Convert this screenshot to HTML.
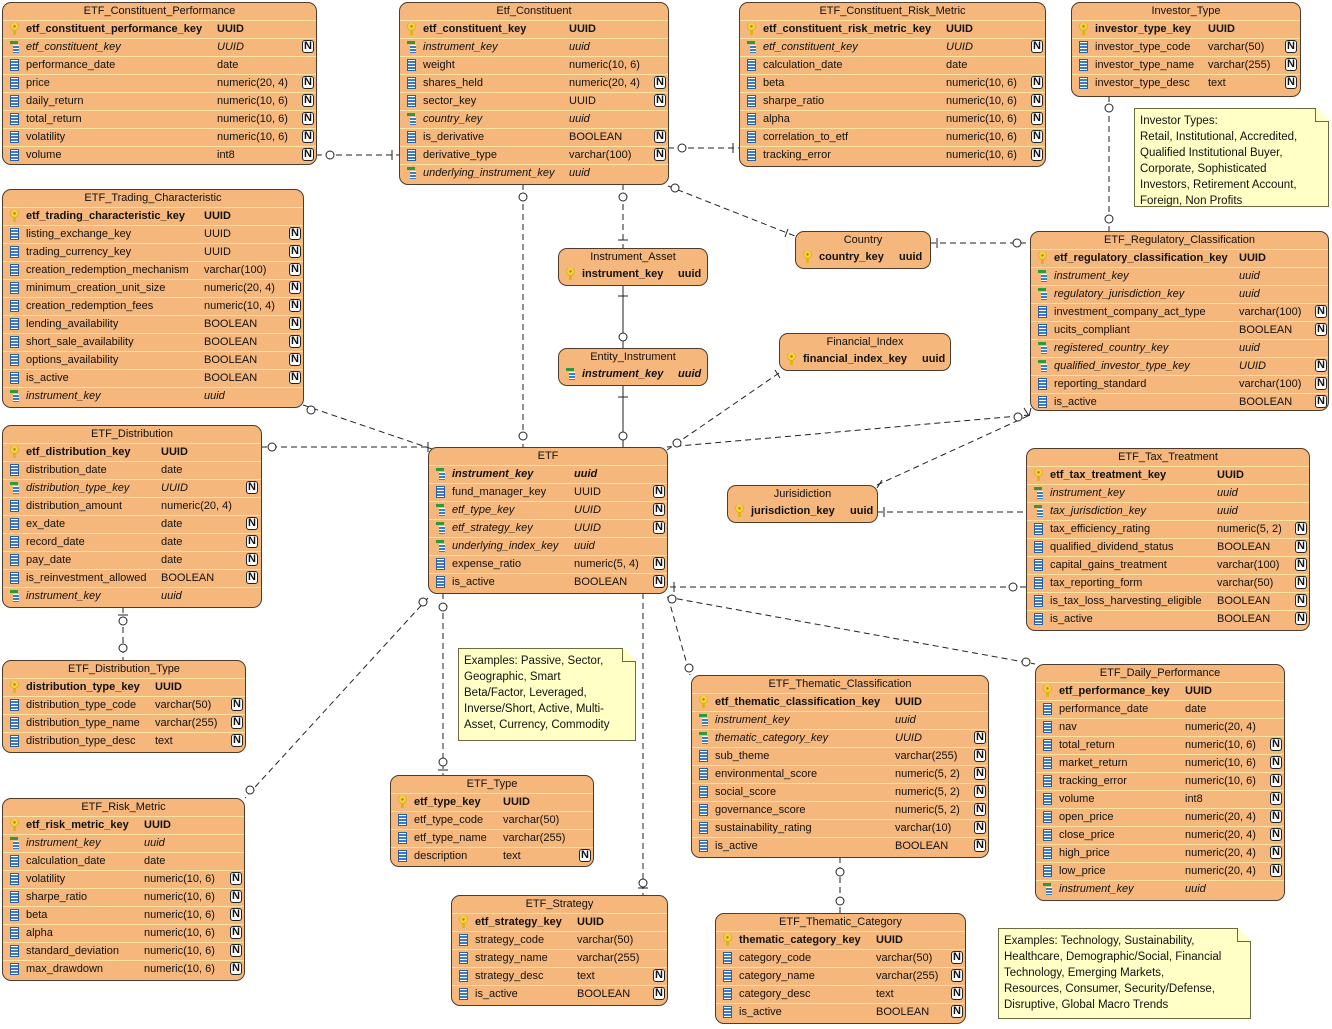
<!DOCTYPE html>
<html><head><meta charset="utf-8"><style>
body{margin:0;width:1332px;height:1029px;background:#fff;position:relative;overflow:hidden;font-family:"Liberation Sans",sans-serif}
.t{position:absolute;background:#f6b77c;border:1px solid #4d3b2b;border-radius:9px;overflow:hidden;font-size:11px;color:#111;box-sizing:border-box}
.h{height:17px;line-height:16px;text-align:center}
.r{position:relative;height:17px;border-top:1px solid #fbe3a0;line-height:17px;white-space:nowrap}
.r b,.r em,.r span{position:absolute;left:23px;font-weight:normal;font-style:normal}
.r s{position:absolute;left:var(--t);text-decoration:none}
.p b,.p s{font-weight:bold}
.f em,.f s{font-style:italic}
.r u{position:absolute;left:calc(var(--n) - 1px);top:1px;width:12px;height:13px;border:1px solid #222;background:#fff;border-radius:3px;font:bold 11px/13px "Liberation Sans",sans-serif;text-align:center;text-decoration:none;box-sizing:border-box;line-height:11px}
.r i{position:absolute;left:7px;top:2px;width:9px;height:12px}
.p i{background:radial-gradient(circle at 50% 28%,#b08a10 0 1px,#f5d23a 1.5px 3.5px,#c9a015 4px,transparent 4.5px),linear-gradient(#e0b51c,#e0b51c) 3px 6px/3px 7px no-repeat;}
.c i{background:repeating-linear-gradient(#fff 0 1px,#3b7cc8 1px 3px);border:1px solid #2d5f9e;width:7px;height:10px}
.f i{background:linear-gradient(#2e9b3a,#2e9b3a) 0 0/8px 3px no-repeat,repeating-linear-gradient(#fff 0 1px,#3b7cc8 1px 3px) 3px 4px/7px 8px no-repeat}
.s .r{border-top:none}
.note{position:absolute;background:#ffffc6;border:1px solid #6a6a40;font-size:11.5px;line-height:16px;padding:4px 5px;box-sizing:border-box;color:#111}
.note:after{content:"";position:absolute;right:-1px;top:-1px;width:14px;height:14px;background:linear-gradient(45deg,#ffffc6 50%,#fff 50%);border-left:1px solid #6a6a40;border-bottom:1px solid #6a6a40;box-sizing:border-box}
svg{position:absolute;left:0;top:0}
</style></head><body>
<svg width="1332" height="1029" fill="none" stroke="#222" stroke-width="1">
<g stroke-dasharray="6,4">
<line x1="316" y1="155" x2="399" y2="155"/>
<line x1="668" y1="148" x2="739" y2="148"/>
<line x1="623" y1="184" x2="623" y2="248"/>
<line x1="668" y1="186" x2="795" y2="236"/>
<line x1="930" y1="243" x2="1030" y2="243"/>
<line x1="1109" y1="96" x2="1109" y2="231"/>
<line x1="523" y1="184" x2="523" y2="447"/>
<line x1="303" y1="405" x2="435" y2="450"/>
<line x1="261" y1="447" x2="428" y2="447"/>
<line x1="779" y1="373" x2="667" y2="450"/>
<line x1="1030" y1="415" x2="667" y2="447"/>
<line x1="877" y1="485" x2="1030" y2="415"/>
<line x1="877" y1="512" x2="1026" y2="512"/>
<line x1="1026" y1="587" x2="667" y2="587"/>
<line x1="667" y1="597" x2="1035" y2="664"/>
<line x1="668" y1="597" x2="690" y2="675"/>
<line x1="840" y1="857" x2="840" y2="913"/>
<line x1="643" y1="593" x2="643" y2="895"/>
<line x1="443" y1="593" x2="443" y2="775"/>
<line x1="428" y1="598" x2="245" y2="798"/>
<line x1="123" y1="607" x2="123" y2="660"/>
</g>
<line x1="623" y1="285" x2="623" y2="348"/>
<line x1="623" y1="385" x2="623" y2="447"/>
<g fill="#fff">
<circle cx="330" cy="155" r="4"/><circle cx="682" cy="148" r="4"/><circle cx="623" cy="197" r="4"/><circle cx="675" cy="188" r="4"/>
<circle cx="1017" cy="243" r="4"/><circle cx="1109" cy="108" r="4"/><circle cx="1109" cy="219" r="4"/><circle cx="523" cy="197" r="4"/><circle cx="523" cy="436" r="4"/>
<circle cx="311" cy="410" r="4"/><circle cx="272" cy="447" r="4"/><circle cx="677" cy="443" r="4"/><circle cx="1018" cy="417" r="4"/>
<circle cx="1013" cy="587" r="4"/><circle cx="672" cy="599" r="4"/><circle cx="1026" cy="662" r="4"/><circle cx="689" cy="668" r="4"/>
<circle cx="840" cy="872" r="4"/><circle cx="840" cy="901" r="4"/><circle cx="643" cy="883" r="4"/><circle cx="443" cy="607" r="4"/><circle cx="443" cy="762" r="4"/>
<circle cx="250" cy="790" r="4"/><circle cx="423" cy="602" r="4"/><circle cx="123" cy="621" r="4"/><circle cx="123" cy="648" r="4"/>
<circle cx="623" cy="337" r="4"/><circle cx="623" cy="436" r="4"/>
</g>
<path d="M392 150v10M733 143v10M618 240h10M788 229l-3 8M937 238v10M1104 89h10M618 296h10M618 397h10M775 370l5 8M1024 408l5 8M882 480l-5 8M884 507v10M674 582v10M638 888h10M438 770h10M118 615h10M428 442v10M1031 408l-2 8"/>
</svg>

<div class="t" style="left:2px;top:2px;width:315px;height:163px;--t:214px;--n:300px"><div class="h">ETF_Constituent_Performance</div>
<div class="r p"><i></i><b>etf_constituent_performance_key</b><s>UUID</s></div>
<div class="r f"><i></i><em>etf_constituent_key</em><s>UUID</s><u>N</u></div>
<div class="r c"><i></i><span>performance_date</span><s>date</s></div>
<div class="r c"><i></i><span>price</span><s>numeric(20, 4)</s><u>N</u></div>
<div class="r c"><i></i><span>daily_return</span><s>numeric(10, 6)</s><u>N</u></div>
<div class="r c"><i></i><span>total_return</span><s>numeric(10, 6)</s><u>N</u></div>
<div class="r c"><i></i><span>volatility</span><s>numeric(10, 6)</s><u>N</u></div>
<div class="r c"><i></i><span>volume</span><s>int8</s><u>N</u></div></div>

<div class="t" style="left:399px;top:2px;width:270px;height:183px;--t:169px;--n:255px"><div class="h">Etf_Constituent</div>
<div class="r p"><i></i><b>etf_constituent_key</b><s>UUID</s></div>
<div class="r f"><i></i><em>instrument_key</em><s>uuid</s></div>
<div class="r c"><i></i><span>weight</span><s>numeric(10, 6)</s></div>
<div class="r c"><i></i><span>shares_held</span><s>numeric(20, 4)</s><u>N</u></div>
<div class="r c"><i></i><span>sector_key</span><s>UUID</s><u>N</u></div>
<div class="r f"><i></i><em>country_key</em><s>uuid</s></div>
<div class="r c"><i></i><span>is_derivative</span><s>BOOLEAN</s><u>N</u></div>
<div class="r c"><i></i><span>derivative_type</span><s>varchar(100)</s><u>N</u></div>
<div class="r f"><i></i><em>underlying_instrument_key</em><s>uuid</s></div></div>

<div class="t" style="left:739px;top:2px;width:307px;height:165px;--t:206px;--n:292px"><div class="h">ETF_Constituent_Risk_Metric</div>
<div class="r p"><i></i><b>etf_constituent_risk_metric_key</b><s>UUID</s></div>
<div class="r f"><i></i><em>etf_constituent_key</em><s>UUID</s><u>N</u></div>
<div class="r c"><i></i><span>calculation_date</span><s>date</s></div>
<div class="r c"><i></i><span>beta</span><s>numeric(10, 6)</s><u>N</u></div>
<div class="r c"><i></i><span>sharpe_ratio</span><s>numeric(10, 6)</s><u>N</u></div>
<div class="r c"><i></i><span>alpha</span><s>numeric(10, 6)</s><u>N</u></div>
<div class="r c"><i></i><span>correlation_to_etf</span><s>numeric(10, 6)</s><u>N</u></div>
<div class="r c"><i></i><span>tracking_error</span><s>numeric(10, 6)</s><u>N</u></div></div>

<div class="t" style="left:1071px;top:2px;width:230px;height:95px;--t:136px;--n:214px"><div class="h">Investor_Type</div>
<div class="r p"><i></i><b>investor_type_key</b><s>UUID</s></div>
<div class="r c"><i></i><span>investor_type_code</span><s>varchar(50)</s><u>N</u></div>
<div class="r c"><i></i><span>investor_type_name</span><s>varchar(255)</s><u>N</u></div>
<div class="r c"><i></i><span>investor_type_desc</span><s>text</s><u>N</u></div></div>

<div class="note" style="left:1134px;top:108px;width:195px;height:99px">Investor Types:<br>Retail, Institutional, Accredited,<br>Qualified Institutional Buyer,<br>Corporate, Sophisticated<br>Investors, Retirement Account,<br>Foreign, Non Profits</div>

<div class="t" style="left:2px;top:189px;width:302px;height:219px;--t:201px;--n:287px"><div class="h">ETF_Trading_Characteristic</div>
<div class="r p"><i></i><b>etf_trading_characteristic_key</b><s>UUID</s></div>
<div class="r c"><i></i><span>listing_exchange_key</span><s>UUID</s><u>N</u></div>
<div class="r c"><i></i><span>trading_currency_key</span><s>UUID</s><u>N</u></div>
<div class="r c"><i></i><span>creation_redemption_mechanism</span><s>varchar(100)</s><u>N</u></div>
<div class="r c"><i></i><span>minimum_creation_unit_size</span><s>numeric(20, 4)</s><u>N</u></div>
<div class="r c"><i></i><span>creation_redemption_fees</span><s>numeric(10, 4)</s><u>N</u></div>
<div class="r c"><i></i><span>lending_availability</span><s>BOOLEAN</s><u>N</u></div>
<div class="r c"><i></i><span>short_sale_availability</span><s>BOOLEAN</s><u>N</u></div>
<div class="r c"><i></i><span>options_availability</span><s>BOOLEAN</s><u>N</u></div>
<div class="r c"><i></i><span>is_active</span><s>BOOLEAN</s><u>N</u></div>
<div class="r f"><i></i><em>instrument_key</em><s>uuid</s></div></div>

<div class="t s" style="left:558px;top:248px;width:150px;height:38px;--t:119px"><div class="h">Instrument_Asset</div>
<div class="r p"><i></i><b>instrument_key</b><s>uuid</s></div></div>

<div class="t s" style="left:795px;top:231px;width:136px;height:38px;--t:103px"><div class="h">Country</div>
<div class="r p"><i></i><b>country_key</b><s>uuid</s></div></div>

<div class="t s" style="left:558px;top:348px;width:150px;height:38px;--t:119px"><div class="h">Entity_Instrument</div>
<div class="r f"><i></i><em style="font-weight:bold">instrument_key</em><s style="font-weight:bold">uuid</s></div></div>

<div class="t s" style="left:779px;top:333px;width:172px;height:38px;--t:142px"><div class="h">Financial_Index</div>
<div class="r p"><i></i><b>financial_index_key</b><s>uuid</s></div></div>

<div class="t s" style="left:727px;top:485px;width:151px;height:38px;--t:122px"><div class="h">Jurisidiction</div>
<div class="r p"><i></i><b>jurisdiction_key</b><s>uuid</s></div></div>

<div class="t" style="left:1030px;top:231px;width:299px;height:180px;--t:208px;--n:285px"><div class="h">ETF_Regulatory_Classification</div>
<div class="r p"><i></i><b>etf_regulatory_classification_key</b><s>UUID</s></div>
<div class="r f"><i></i><em>instrument_key</em><s>uuid</s></div>
<div class="r f"><i></i><em>regulatory_jurisdiction_key</em><s>uuid</s></div>
<div class="r c"><i></i><span>investment_company_act_type</span><s>varchar(100)</s><u>N</u></div>
<div class="r c"><i></i><span>ucits_compliant</span><s>BOOLEAN</s><u>N</u></div>
<div class="r f"><i></i><em>registered_country_key</em><s>uuid</s></div>
<div class="r f"><i></i><em>qualified_investor_type_key</em><s>UUID</s><u>N</u></div>
<div class="r c"><i></i><span>reporting_standard</span><s>varchar(100)</s><u>N</u></div>
<div class="r c"><i></i><span>is_active</span><s>BOOLEAN</s><u>N</u></div></div>

<div class="t" style="left:2px;top:425px;width:260px;height:183px;--t:158px;--n:244px"><div class="h">ETF_Distribution</div>
<div class="r p"><i></i><b>etf_distribution_key</b><s>UUID</s></div>
<div class="r c"><i></i><span>distribution_date</span><s>date</s></div>
<div class="r f"><i></i><em>distribution_type_key</em><s>UUID</s><u>N</u></div>
<div class="r c"><i></i><span>distribution_amount</span><s>numeric(20, 4)</s></div>
<div class="r c"><i></i><span>ex_date</span><s>date</s><u>N</u></div>
<div class="r c"><i></i><span>record_date</span><s>date</s><u>N</u></div>
<div class="r c"><i></i><span>pay_date</span><s>date</s><u>N</u></div>
<div class="r c"><i></i><span>is_reinvestment_allowed</span><s>BOOLEAN</s><u>N</u></div>
<div class="r f"><i></i><em>instrument_key</em><s>uuid</s></div></div>

<div class="t" style="left:428px;top:447px;width:240px;height:147px;--t:145px;--n:225px"><div class="h">ETF</div>
<div class="r f"><i></i><em style="font-weight:bold">instrument_key</em><s style="font-weight:bold">uuid</s></div>
<div class="r c"><i></i><span>fund_manager_key</span><s>UUID</s><u>N</u></div>
<div class="r f"><i></i><em>etf_type_key</em><s>UUID</s><u>N</u></div>
<div class="r f"><i></i><em>etf_strategy_key</em><s>UUID</s><u>N</u></div>
<div class="r f"><i></i><em>underlying_index_key</em><s>uuid</s></div>
<div class="r c"><i></i><span>expense_ratio</span><s>numeric(5, 4)</s><u>N</u></div>
<div class="r c"><i></i><span>is_active</span><s>BOOLEAN</s><u>N</u></div></div>

<div class="t" style="left:1026px;top:448px;width:284px;height:183px;--t:190px;--n:269px"><div class="h">ETF_Tax_Treatment</div>
<div class="r p"><i></i><b>etf_tax_treatment_key</b><s>UUID</s></div>
<div class="r f"><i></i><em>instrument_key</em><s>uuid</s></div>
<div class="r f"><i></i><em>tax_jurisdiction_key</em><s>uuid</s></div>
<div class="r c"><i></i><span>tax_efficiency_rating</span><s>numeric(5, 2)</s><u>N</u></div>
<div class="r c"><i></i><span>qualified_dividend_status</span><s>BOOLEAN</s><u>N</u></div>
<div class="r c"><i></i><span>capital_gains_treatment</span><s>varchar(100)</s><u>N</u></div>
<div class="r c"><i></i><span>tax_reporting_form</span><s>varchar(50)</s><u>N</u></div>
<div class="r c"><i></i><span>is_tax_loss_harvesting_eligible</span><s>BOOLEAN</s><u>N</u></div>
<div class="r c"><i></i><span>is_active</span><s>BOOLEAN</s><u>N</u></div></div>

<div class="note" style="left:458px;top:648px;width:178px;height:93px">Examples: Passive, Sector,<br>Geographic, Smart<br>Beta/Factor, Leveraged,<br>Inverse/Short, Active, Multi-<br>Asset, Currency, Commodity</div>

<div class="t" style="left:2px;top:660px;width:244px;height:93px;--t:152px;--n:229px"><div class="h">ETF_Distribution_Type</div>
<div class="r p"><i></i><b>distribution_type_key</b><s>UUID</s></div>
<div class="r c"><i></i><span>distribution_type_code</span><s>varchar(50)</s><u>N</u></div>
<div class="r c"><i></i><span>distribution_type_name</span><s>varchar(255)</s><u>N</u></div>
<div class="r c"><i></i><span>distribution_type_desc</span><s>text</s><u>N</u></div></div>

<div class="t" style="left:691px;top:675px;width:298px;height:183px;--t:203px;--n:283px"><div class="h">ETF_Thematic_Classification</div>
<div class="r p"><i></i><b>etf_thematic_classification_key</b><s>UUID</s></div>
<div class="r f"><i></i><em>instrument_key</em><s>uuid</s></div>
<div class="r f"><i></i><em>thematic_category_key</em><s>UUID</s><u>N</u></div>
<div class="r c"><i></i><span>sub_theme</span><s>varchar(255)</s><u>N</u></div>
<div class="r c"><i></i><span>environmental_score</span><s>numeric(5, 2)</s><u>N</u></div>
<div class="r c"><i></i><span>social_score</span><s>numeric(5, 2)</s><u>N</u></div>
<div class="r c"><i></i><span>governance_score</span><s>numeric(5, 2)</s><u>N</u></div>
<div class="r c"><i></i><span>sustainability_rating</span><s>varchar(10)</s><u>N</u></div>
<div class="r c"><i></i><span>is_active</span><s>BOOLEAN</s><u>N</u></div></div>

<div class="t" style="left:1035px;top:664px;width:250px;height:237px;--t:149px;--n:235px"><div class="h">ETF_Daily_Performance</div>
<div class="r p"><i></i><b>etf_performance_key</b><s>UUID</s></div>
<div class="r c"><i></i><span>performance_date</span><s>date</s></div>
<div class="r c"><i></i><span>nav</span><s>numeric(20, 4)</s></div>
<div class="r c"><i></i><span>total_return</span><s>numeric(10, 6)</s><u>N</u></div>
<div class="r c"><i></i><span>market_return</span><s>numeric(10, 6)</s><u>N</u></div>
<div class="r c"><i></i><span>tracking_error</span><s>numeric(10, 6)</s><u>N</u></div>
<div class="r c"><i></i><span>volume</span><s>int8</s><u>N</u></div>
<div class="r c"><i></i><span>open_price</span><s>numeric(20, 4)</s><u>N</u></div>
<div class="r c"><i></i><span>close_price</span><s>numeric(20, 4)</s><u>N</u></div>
<div class="r c"><i></i><span>high_price</span><s>numeric(20, 4)</s><u>N</u></div>
<div class="r c"><i></i><span>low_price</span><s>numeric(20, 4)</s><u>N</u></div>
<div class="r f"><i></i><em>instrument_key</em><s>uuid</s></div></div>

<div class="t" style="left:390px;top:775px;width:204px;height:92px;--t:112px;--n:189px"><div class="h">ETF_Type</div>
<div class="r p"><i></i><b>etf_type_key</b><s>UUID</s></div>
<div class="r c"><i></i><span>etf_type_code</span><s>varchar(50)</s></div>
<div class="r c"><i></i><span>etf_type_name</span><s>varchar(255)</s></div>
<div class="r c"><i></i><span>description</span><s>text</s><u>N</u></div></div>

<div class="t" style="left:2px;top:798px;width:243px;height:183px;--t:141px;--n:228px"><div class="h">ETF_Risk_Metric</div>
<div class="r p"><i></i><b>etf_risk_metric_key</b><s>UUID</s></div>
<div class="r f"><i></i><em>instrument_key</em><s>uuid</s></div>
<div class="r c"><i></i><span>calculation_date</span><s>date</s></div>
<div class="r c"><i></i><span>volatility</span><s>numeric(10, 6)</s><u>N</u></div>
<div class="r c"><i></i><span>sharpe_ratio</span><s>numeric(10, 6)</s><u>N</u></div>
<div class="r c"><i></i><span>beta</span><s>numeric(10, 6)</s><u>N</u></div>
<div class="r c"><i></i><span>alpha</span><s>numeric(10, 6)</s><u>N</u></div>
<div class="r c"><i></i><span>standard_deviation</span><s>numeric(10, 6)</s><u>N</u></div>
<div class="r c"><i></i><span>max_drawdown</span><s>numeric(10, 6)</s><u>N</u></div></div>

<div class="t" style="left:451px;top:895px;width:217px;height:111px;--t:125px;--n:202px"><div class="h">ETF_Strategy</div>
<div class="r p"><i></i><b>etf_strategy_key</b><s>UUID</s></div>
<div class="r c"><i></i><span>strategy_code</span><s>varchar(50)</s></div>
<div class="r c"><i></i><span>strategy_name</span><s>varchar(255)</s></div>
<div class="r c"><i></i><span>strategy_desc</span><s>text</s><u>N</u></div>
<div class="r c"><i></i><span>is_active</span><s>BOOLEAN</s><u>N</u></div></div>

<div class="t" style="left:715px;top:913px;width:251px;height:111px;--t:160px;--n:236px"><div class="h">ETF_Thematic_Category</div>
<div class="r p"><i></i><b>thematic_category_key</b><s>UUID</s></div>
<div class="r c"><i></i><span>category_code</span><s>varchar(50)</s><u>N</u></div>
<div class="r c"><i></i><span>category_name</span><s>varchar(255)</s><u>N</u></div>
<div class="r c"><i></i><span>category_desc</span><s>text</s><u>N</u></div>
<div class="r c"><i></i><span>is_active</span><s>BOOLEAN</s><u>N</u></div></div>

<div class="note" style="left:998px;top:928px;width:253px;height:91px">Examples: Technology, Sustainability,<br>Healthcare, Demographic/Social, Financial<br>Technology, Emerging Markets,<br>Resources, Consumer, Security/Defense,<br>Disruptive, Global Macro Trends</div>
</body></html>
